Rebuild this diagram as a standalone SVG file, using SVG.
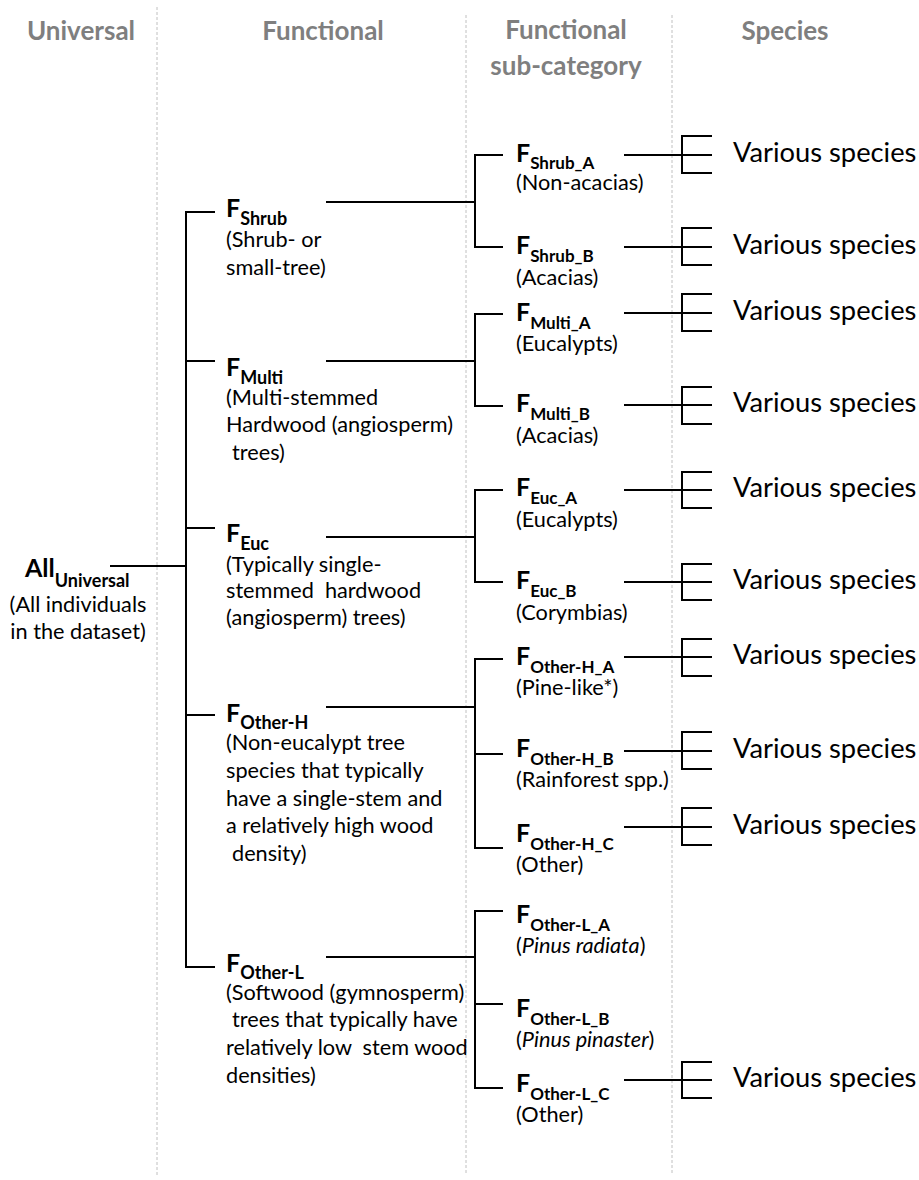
<svg xmlns="http://www.w3.org/2000/svg" width="919" height="1180" viewBox="0 0 919 1180">
<style>
text{font-family:Lato,"Liberation Sans",sans-serif;fill:#000}
.hdr{font-weight:bold;font-size:26px;fill:#7f7f7f;text-anchor:middle}
.F{font-weight:bold;font-size:25px}
.s1{font-size:18px}
.s2{font-size:17px}
.d{font-size:21.7px}
.sp{font-size:27.3px}
.it{font-style:italic}
.grid{stroke:#c0c0c0;stroke-width:1;stroke-dasharray:3 2;fill:none}
.c{stroke:#000;stroke-width:2;fill:none}
</style>
<g id="grid">
<line class="grid" x1="157" y1="7" x2="157" y2="1175"/>
<line class="grid" x1="466" y1="15" x2="466" y2="1175"/>
<line class="grid" x1="672" y1="15" x2="672" y2="1175"/>
</g>
<g id="headers">
<text class="hdr" x="81" y="40">Universal</text>
<text class="hdr" x="323" y="40">Functional</text>
<text class="hdr" x="566" y="39">Functional</text>
<text class="hdr" x="566" y="75">sub-category</text>
<text class="hdr" x="785" y="40">Species</text>
</g>
<g id="connectors">
<path class="c" d="M110,566 H186"/>
<path class="c" d="M215,212 H186 V967 H215 M186,361 H215 M186,528 H215 M186,715 H215"/>
<path class="c" d="M326,202 H475 M503,155 H475 V247 H503"/>
<path class="c" d="M326,361 H475 M503,314 H475 V406 H503"/>
<path class="c" d="M326,537 H475 M503,490 H475 V582 H503"/>
<path class="c" d="M326,707 H475 M503,659 H475 V848 H503 M475,754 H503"/>
<path class="c" d="M326,957 H475 M503,911 H475 V1088 H503 M475,1004 H503"/>
<path class="c" d="M624,155 H712 M712,136 H682 V173 H712"/>
<path class="c" d="M624,247 H712 M712,228 H682 V265 H712"/>
<path class="c" d="M624,313 H712 M712,294 H682 V331 H712"/>
<path class="c" d="M624,405 H712 M712,387 H682 V424 H712"/>
<path class="c" d="M624,490 H712 M712,472 H682 V508 H712"/>
<path class="c" d="M624,582 H712 M712,564 H682 V600 H712"/>
<path class="c" d="M624,657 H712 M712,639 H682 V676 H712"/>
<path class="c" d="M624,751 H712 M712,732 H682 V769 H712"/>
<path class="c" d="M624,827 H712 M712,808 H682 V845 H712"/>
<path class="c" d="M624,1080 H712 M712,1062 H682 V1098 H712"/>
</g>
<g id="all-universal">
<text class="F" x="25" y="577">All<tspan class="s1" dy="10">Universal</tspan></text>
<text class="d" x="78" y="612" text-anchor="middle">(All individuals</text>
<text class="d" x="78" y="639" text-anchor="middle">in the dataset)</text>
</g>
<g id="f-shrub">
<text class="F" x="226" y="217">F<tspan class="s1" dy="8">Shrub</tspan></text>
<text class="d" x="226" y="247">(Shrub- or</text>
<text class="d" x="226" y="275">small-tree)</text>
</g>
<g id="f-multi">
<text class="F" x="226" y="376">F<tspan class="s1" dy="8">Multi</tspan></text>
<text class="d" x="226" y="405">(Multi-stemmed</text>
<text class="d" x="226" y="432">Hardwood (angiosperm)</text>
<text class="d" x="232" y="460">trees)</text>
</g>
<g id="f-euc">
<text class="F" x="226" y="542">F<tspan class="s1" dy="8">Euc</tspan></text>
<text class="d" x="226" y="572">(Typically single-</text>
<text class="d" x="226" y="598" xml:space="preserve">stemmed  hardwood</text>
<text class="d" x="226" y="625">(angiosperm) trees)</text>
</g>
<g id="f-other-h">
<text class="F" x="226" y="722">F<tspan class="s1" dy="7">Other-H</tspan></text>
<text class="d" x="226" y="750">(Non-eucalypt tree</text>
<text class="d" x="226" y="778">species that typically</text>
<text class="d" x="226" y="806">have a single-stem and</text>
<text class="d" x="226" y="833">a relatively high wood</text>
<text class="d" x="232" y="861">density)</text>
</g>
<g id="f-other-l">
<text class="F" x="226" y="972">F<tspan class="s1" dy="7">Other-L</tspan></text>
<text class="d" x="226" y="1000">(Softwood (gymnosperm)</text>
<text class="d" x="232" y="1027">trees that typically have</text>
<text class="d" x="226" y="1055" xml:space="preserve">relatively low  stem wood</text>
<text class="d" x="226" y="1083">densities)</text>
</g>
<g id="f-shrub-a">
<text class="F" x="516" y="162">F<tspan class="s2" dy="7">Shrub_A</tspan></text>
<text class="d" x="516" y="190">(Non-acacias)</text>
</g>
<g id="f-shrub-b">
<text class="F" x="516" y="254">F<tspan class="s2" dy="8">Shrub_B</tspan></text>
<text class="d" x="516" y="285">(Acacias)</text>
</g>
<g id="f-multi-a">
<text class="F" x="516" y="321">F<tspan class="s2" dy="8">Multi_A</tspan></text>
<text class="d" x="516" y="351">(Eucalypts)</text>
</g>
<g id="f-multi-b">
<text class="F" x="516" y="412">F<tspan class="s2" dy="8">Multi_B</tspan></text>
<text class="d" x="516" y="443">(Acacias)</text>
</g>
<g id="f-euc-a">
<text class="F" x="516" y="496">F<tspan class="s2" dy="8">Euc_A</tspan></text>
<text class="d" x="516" y="527">(Eucalypts)</text>
</g>
<g id="f-euc-b">
<text class="F" x="516" y="589">F<tspan class="s2" dy="8">Euc_B</tspan></text>
<text class="d" x="516" y="620">(Corymbias)</text>
</g>
<g id="f-other-h-a">
<text class="F" x="516" y="665">F<tspan class="s2" dy="8">Other-H_A</tspan></text>
<text class="d" x="516" y="695">(Pine-like*)</text>
</g>
<g id="f-other-h-b">
<text class="F" x="516" y="757">F<tspan class="s2" dy="8">Other-H_B</tspan></text>
<text class="d" x="516" y="787">(Rainforest spp.)</text>
</g>
<g id="f-other-h-c">
<text class="F" x="516" y="842">F<tspan class="s2" dy="8">Other-H_C</tspan></text>
<text class="d" x="516" y="872">(Other)</text>
</g>
<g id="f-other-l-a">
<text class="F" x="516" y="923">F<tspan class="s2" dy="8">Other-L_A</tspan></text>
<text class="d" x="516" y="953">(<tspan class="it">Pinus radiata</tspan>)</text>
</g>
<g id="f-other-l-b">
<text class="F" x="516" y="1017">F<tspan class="s2" dy="8">Other-L_B</tspan></text>
<text class="d" x="516" y="1047">(<tspan class="it">Pinus pinaster</tspan>)</text>
</g>
<g id="f-other-l-c">
<text class="F" x="516" y="1092">F<tspan class="s2" dy="8">Other-L_C</tspan></text>
<text class="d" x="516" y="1122">(Other)</text>
</g>
<g id="species">
<text class="sp" x="733" y="162">Various species</text>
<text class="sp" x="733" y="254">Various species</text>
<text class="sp" x="733" y="320">Various species</text>
<text class="sp" x="733" y="412">Various species</text>
<text class="sp" x="733" y="497">Various species</text>
<text class="sp" x="733" y="589">Various species</text>
<text class="sp" x="733" y="664">Various species</text>
<text class="sp" x="733" y="758">Various species</text>
<text class="sp" x="733" y="834">Various species</text>
<text class="sp" x="733" y="1087">Various species</text>
</g>
</svg>
